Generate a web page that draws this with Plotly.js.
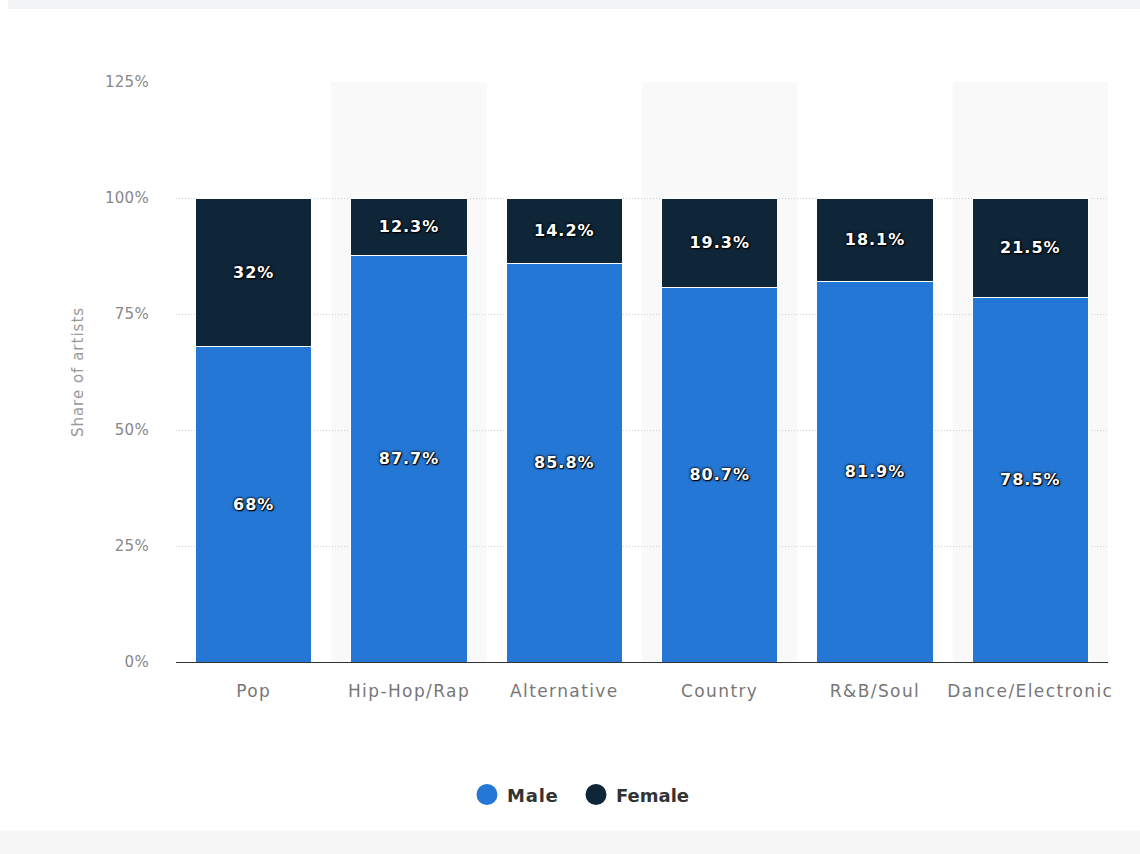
<!DOCTYPE html>
<html>
<head>
<meta charset="utf-8">
<script src="https://cdn.plot.ly/plotly-3.0.1.min.js"></script>
<style>
html,body{margin:0;padding:0;background:#fff;}
#chart{width:1140px;height:854px;}
#chart .xtick text{letter-spacing:1.4px;}
#chart .ytick text{letter-spacing:0.3px;}
#chart .ytitle{letter-spacing:1px;}
#chart .bartext{letter-spacing:1px;}
#chart .legendtext{letter-spacing:0.8px;}
</style>
</head>
<body>
<div id="chart"></div>
<script>
const categories = ["Pop", "Hip-Hop/Rap", "Alternative", "Country", "R&B/Soul", "Dance/Electronic"];
const male = [68, 87.7, 85.8, 80.7, 81.9, 78.5];
const female = [32, 12.3, 14.2, 19.3, 18.1, 21.5];
const seriesNames = ["Male", "Female"];
const colors = ["#2577d6", "#0f2538"];

const labelFont = {family: "DejaVu Sans, sans-serif", size: 16, color: "#ffffff", weight: 700,
  shadow: "0px 0px 3px #000, 0px 0px 2px #000, 1px 1px 1px #000"};

function fmt(v){ return v + "%"; }

const traces = [
  {type: "bar", x: categories, y: male, name: seriesNames[0], showlegend: false,
   marker: {color: colors[0], line: {color: "#ffffff", width: 1}},
   text: male.map(fmt), textposition: "inside", insidetextanchor: "middle",
   textangle: 0, textfont: labelFont, constraintext: "none"},
  {type: "bar", x: categories, y: female, name: seriesNames[1], showlegend: false,
   marker: {color: colors[1], line: {color: "#ffffff", width: 1}},
   text: female.map(fmt), textposition: "inside", insidetextanchor: "middle",
   textangle: 0, textfont: labelFont, constraintext: "none"},
  {type: "scatter", mode: "markers", x: [null], y: [null], name: seriesNames[0], legend: "legend",
   marker: {color: colors[0], size: 16, symbol: "circle", line: {color: colors[0], width: 5}}},
  {type: "scatter", mode: "markers", x: [null], y: [null], name: seriesNames[1], legend: "legend2",
   marker: {color: colors[1], size: 16, symbol: "circle", line: {color: colors[1], width: 5}}}
];

const shapes = [];
for (let i = 1; i < categories.length; i += 2) {
  shapes.push({type: "rect", xref: "x", yref: "paper", x0: i - 0.5, x1: i + 0.5, y0: 0, y1: 1,
    fillcolor: "#f9f9f9", line: {width: 0}, layer: "below"});
}
// page frame strips
shapes.push({type: "rect", xref: "paper", yref: "paper", x0: -0.18, x1: 1.04, y0: 1.126, y1: 1.15,
  fillcolor: "#f3f4f6", line: {width: 0}, layer: "below"});
shapes.push({type: "rect", xref: "paper", yref: "paper", x0: -0.19, x1: 1.04, y0: -0.34, y1: -0.29,
  fillcolor: "#f7f7f8", line: {width: 0}, layer: "below"});

const legendBase = {orientation: "h", xanchor: "left", y: -0.229, yanchor: "middle",
  font: {size: 18, color: "#333", weight: 700}, bgcolor: "rgba(0,0,0,0)"};

const layout = {
  width: 1140, height: 854,
  margin: {l: 176, r: 32, t: 82, b: 192},
  paper_bgcolor: "#ffffff", plot_bgcolor: "rgba(0,0,0,0)",
  barmode: "stack", bargap: 0.25,
  font: {family: "DejaVu Sans, sans-serif", color: "#777"},
  xaxis: {type: "category", showline: true, linecolor: "#333", linewidth: 1,
    showgrid: false, ticks: "", ticklabelstandoff: 14,
    tickfont: {size: 17, color: "#777"}, fixedrange: true},
  yaxis: {range: [0, 125], dtick: 25, ticksuffix: "%", showline: false, zeroline: false,
    gridcolor: "#cfcfcf", griddash: "1px,2px", gridwidth: 1,
    tickfont: {size: 15, color: "#888"}, ticklabelstandoff: 26,
    title: {text: "Share of artists", font: {size: 15, color: "#999"}, standoff: 18},
    fixedrange: true},
  legend: Object.assign({}, legendBase, {x: 0.3122}),
  legend2: Object.assign({}, legendBase, {x: 0.4292}),
  shapes: shapes,
  showlegend: true
};

Plotly.newPlot("chart", traces, layout, {displayModeBar: false, staticPlot: true});
</script>
</body>
</html>
